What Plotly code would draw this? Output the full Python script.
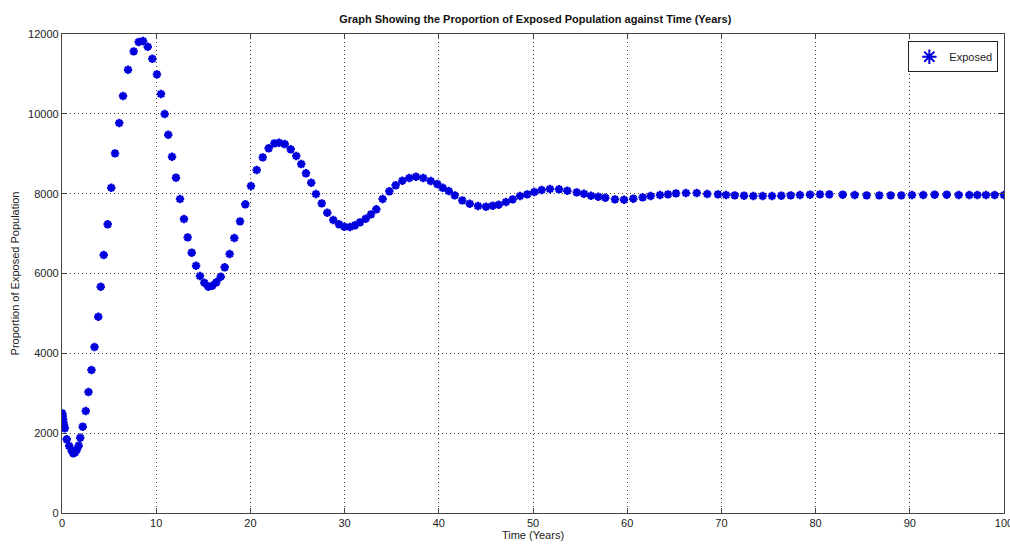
import plotly.graph_objects as go

# Solver output: time (years) and exposed population
time_years = [
    0.03, 0.07, 0.11, 0.14, 0.21, 0.29, 0.50, 0.77, 1.03, 1.20, 1.38, 1.56, 1.77, 1.94,
    2.20, 2.52, 2.81, 3.13, 3.45, 3.85, 4.11, 4.43, 4.85, 5.23, 5.63, 6.08, 6.48, 7.01,
    7.61, 8.14, 8.60, 9.10, 9.59, 10.08, 10.51, 10.90, 11.28, 11.68, 12.10, 12.53, 12.95,
    13.34, 13.77, 14.23, 14.65, 15.11, 15.53, 15.96, 16.38, 16.85, 17.27, 17.80, 18.29,
    18.90, 19.46, 20.06, 20.67, 21.31, 21.94, 22.54, 23.04, 23.64, 24.28, 24.87, 25.40,
    25.90, 26.46, 26.96, 27.57, 28.16, 28.80, 29.41, 29.97, 30.57, 31.10, 31.63, 32.24,
    32.80, 33.37, 34.04, 34.75, 35.42, 36.13, 36.87, 37.58, 38.35, 39.14, 39.84, 40.41,
    41.05, 41.69, 42.49, 43.28, 44.16, 45.01, 45.72, 46.36, 47.13, 47.84, 48.62, 49.39,
    50.14, 50.92, 51.80, 52.76, 53.64, 54.64, 55.41, 56.16, 56.93, 57.68, 58.70, 59.66,
    60.65, 61.64, 62.49, 63.48, 64.33, 65.18, 66.24, 67.38, 68.50, 69.64, 70.49, 71.41,
    72.40, 73.39, 74.38, 75.37, 76.36, 77.36, 78.34, 79.41, 80.47, 81.46, 82.88, 84.15,
    85.42, 86.76, 87.97, 89.10, 90.23, 91.43, 92.64, 93.92, 95.19, 96.32, 97.17, 98.09,
    99.01, 100.0,
]
exposed = [
    2497, 2430, 2355, 2280, 2204, 2122, 1846, 1678, 1561, 1495, 1520, 1578, 1686, 1886,
    2162, 2555, 3031, 3582, 4158, 4917, 5669, 6463, 7232, 8149, 9010, 9770, 10446, 11105,
    11565, 11799, 11824, 11681, 11380, 10989, 10496, 9995, 9477, 8925, 8400, 7866, 7365,
    6906, 6521, 6195, 5937, 5769, 5669, 5694, 5779, 5919, 6155, 6488, 6889,
    7307, 7733, 8191, 8592, 8910, 9136, 9261, 9276, 9243, 9111, 8943, 8742,
    8510, 8274, 7991, 7758, 7523, 7340, 7232, 7172, 7164, 7207, 7282, 7372,
    7482, 7608, 7866, 8059, 8209, 8324, 8392, 8424, 8392, 8317, 8241, 8149,
    8066, 7958, 7833, 7748, 7690, 7673, 7698, 7723, 7791, 7858, 7941, 7983,
    8041, 8091, 8116, 8109, 8074, 8033, 7998, 7948, 7923, 7898, 7858, 7848,
    7874, 7908, 7941, 7966, 7983, 8008, 8016, 8016, 7991, 7983, 7966, 7958,
    7949, 7941, 7941, 7941, 7949, 7958, 7966, 7974, 7983, 7983, 7974, 7966,
    7958, 7958, 7958, 7958, 7966, 7966, 7974, 7974, 7966, 7966, 7966, 7966,
    7966, 7966,
]

x_ticks = [0, 10, 20, 30, 40, 50, 60, 70, 80, 90, 100]
y_ticks = [0, 2000, 4000, 6000, 8000, 10000, 12000]

font_family = "Liberation Sans, Arial, sans-serif"

fig = go.Figure()
fig.add_trace(go.Scatter(
    x=time_years,
    y=exposed,
    mode="markers",
    name="Exposed",
    marker=dict(
        symbol="asterisk-open",
        size=7,
        color="#0000dd",
        line=dict(color="#0000dd", width=2.4),
    ),
))

axis_common = dict(
    showline=True,
    linecolor="#444444",
    linewidth=1.3,
    mirror="ticks",
    ticks="inside",
    ticklen=5,
    tickcolor="#444444",
    showgrid=True,
    gridcolor="#444444",
    gridwidth=1,
    griddash="1px,3px",
    zeroline=False,
    automargin=False,
    tickfont=dict(family=font_family, size=11, color="#222222"),
)

fig.update_layout(
    width=1010,
    height=544,
    margin=dict(l=62, r=6, t=34, b=31),
    paper_bgcolor="white",
    plot_bgcolor="white",
    title=dict(
        text="<b>Graph Showing the Proportion of Exposed Population against Time (Years)</b>",
        x=0.53,
        xanchor="center",
        y=0.965,
        yanchor="middle",
        font=dict(family=font_family, size=11, color="#111111"),
    ),
    xaxis=dict(
        range=[0, 100],
        tickvals=x_ticks,
        ticktext=[str(v) for v in x_ticks],
        ticklabeloverflow="allow",
        title=dict(text="Time (Years)", standoff=2,
                   font=dict(family=font_family, size=11, color="#222222")),
        **axis_common,
    ),
    yaxis=dict(
        range=[0, 12000],
        tickvals=y_ticks,
        ticktext=[str(v) for v in y_ticks],
        title=dict(text="Proportion of Exposed Population", standoff=6,
                   font=dict(family=font_family, size=11, color="#222222")),
        **axis_common,
    ),
    showlegend=True,
    legend=dict(
        x=0.994,
        y=0.985,
        xanchor="right",
        yanchor="top",
        bgcolor="white",
        bordercolor="#222222",
        borderwidth=1,
        font=dict(family=font_family, size=11, color="#222222"),
        itemsizing="constant",
        itemwidth=30,
    ),
)

fig.write_html("out.html")
